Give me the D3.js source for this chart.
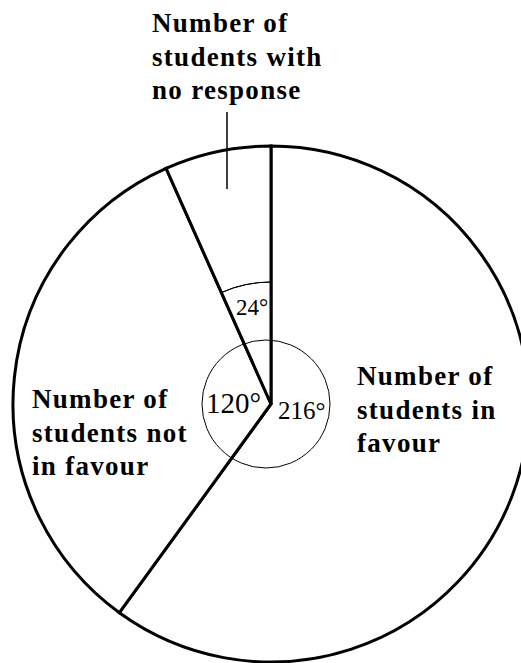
<!DOCTYPE html>
<html>
<head>
<meta charset="utf-8">
<script src="https://cdn.jsdelivr.net/npm/d3@7"></script>
<style>
  html, body { margin: 0; padding: 0; background: #fff; }
  svg { display: block; }
</style>
</head>
<body>
<div id="chart"></div>
<script>
// Slices, clockwise from 12 o'clock (values are the sector angles in degrees)
const categories = ["Number of students in favour", "Number of students not in favour", "Number of students with no response"];
const angles = [216, 120, 24];
const angleLabels = ["216°", "120°", "24°"];
const sliceLabels = [
  ["Number of", "students in", "favour"],
  ["Number of", "students not", "in favour"],
  ["Number of", "students with", "no response"]
];

const width = 521, height = 663;
const cx = 271, cy = 404, radius = 258;

const data = categories.map((c, i) => ({name: c, value: angles[i]}));

const pie = d3.pie().sort(null).value(d => d.value).startAngle(0).endAngle(2 * Math.PI);
const arcs = pie(data);
const arc = d3.arc().innerRadius(0).outerRadius(radius);

const svg = d3.select("#chart").append("svg")
    .attr("width", width)
    .attr("height", height)
    .attr("viewBox", [0, 0, width, height]);

const g = svg.append("g").attr("transform", `translate(${cx},${cy})`);

g.selectAll("path.slice")
  .data(arcs)
  .join("path")
    .attr("class", "slice")
    .attr("d", arc)
    .attr("fill", "#fff")
    .attr("stroke", "#000")
    .attr("stroke-width", 3)
    .attr("stroke-linejoin", "miter");

// angle markers
g.append("circle")
    .attr("cx", -5)
    .attr("r", 64)
    .attr("fill", "none")
    .attr("stroke", "#000")
    .attr("stroke-width", 1);

const small = arcs[2];
g.append("path")
    .attr("d", d3.arc()({innerRadius: 122, outerRadius: 122, startAngle: small.startAngle, endAngle: small.endAngle}))
    .attr("fill", "none")
    .attr("stroke", "#000")
    .attr("stroke-width", 1);

// angle text
const anglePos = [[278, 419, 25], [206, 413, 29], [236, 315, 23]];
svg.append("g")
    .attr("font-family", "'Liberation Serif', 'Times New Roman', serif")
  .selectAll("text")
  .data(angleLabels)
  .join("text")
    .attr("x", (d, i) => anglePos[i][0])
    .attr("y", (d, i) => anglePos[i][1])
    .attr("font-size", (d, i) => anglePos[i][2])
    .text(d => d);

// leader line for the no-response label
svg.append("line")
    .attr("x1", 227).attr("x2", 227)
    .attr("y1", 112).attr("y2", 189)
    .attr("stroke", "#000")
    .attr("stroke-width", 1.5);

// slice labels
const labelPos = [[357, 385], [32, 408], [152, 32]];
const lineGap = 33.5;
const labels = svg.append("g")
    .attr("font-family", "'Liberation Serif', 'Times New Roman', serif")
    .attr("font-weight", "bold")
    .attr("font-size", 27)
    .attr("letter-spacing", 1.3)
  .selectAll("text")
  .data(sliceLabels)
  .join("text")
    .attr("x", (d, i) => labelPos[i][0])
    .attr("y", (d, i) => labelPos[i][1]);

labels.selectAll("tspan")
  .data((d, i) => d.map(t => ({t, i})))
  .join("tspan")
    .attr("x", d => labelPos[d.i][0])
    .attr("dy", (d, j) => j === 0 ? 0 : lineGap)
    .text(d => d.t);
</script>
</body>
</html>
